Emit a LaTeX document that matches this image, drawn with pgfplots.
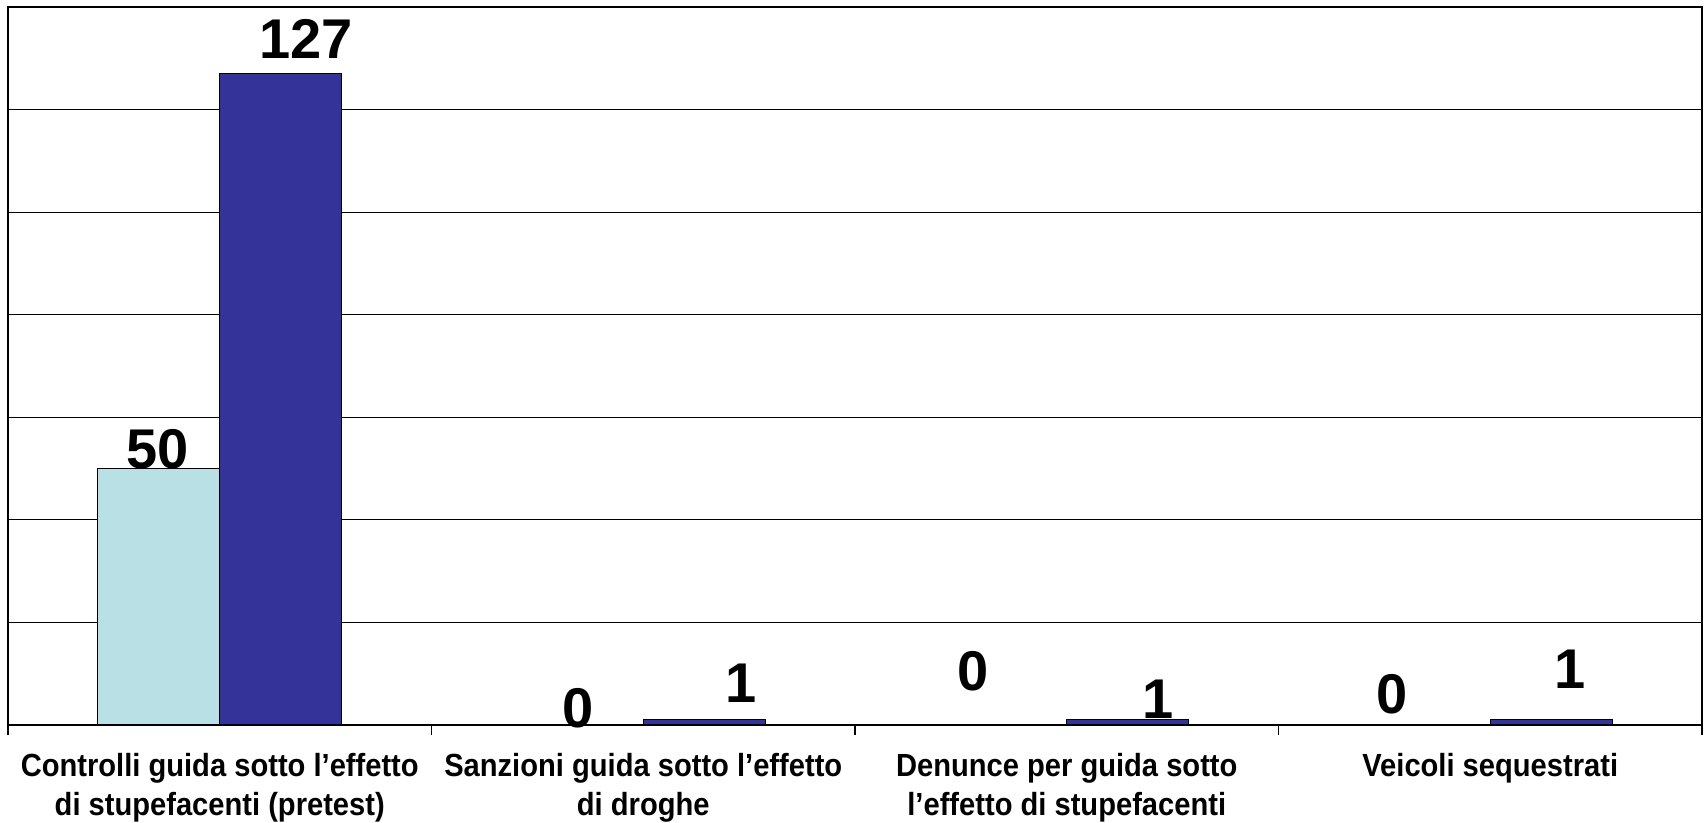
\documentclass[border=0pt]{standalone}
\usepackage{pgfplots}
\pgfplotsset{compat=1.18}
\usepackage{fontspec}
\setmainfont{Liberation Sans}
\newfontfamily\narrowfont{Liberation Sans}[FakeStretch=0.91]
\definecolor{lightbar}{RGB}{185,224,228}
\definecolor{darkbar}{RGB}{51,51,153}

\begin{document}
\begin{tikzpicture}
\begin{axis}[
    scale only axis,
    width=847pt, height=359pt,
    xmin=-0.5, xmax=3.5,
    ymin=0, ymax=140,
    ybar=0pt, bar width=0.288,
    axis line style={line width=1.4pt},
    ytick={0,20,...,140}, yticklabels={},
    ymajorgrids,
    major grid style={black, line width=0.6pt},
    xtick={0,1,2,3},
    xticklabels={
        Controlli guida sotto l’effetto\\di stupefacenti (pretest),
        Sanzioni guida sotto l’effetto\\di droghe,
        Denunce per guida sotto\\l’effetto di stupefacenti,
        Veicoli sequestrati},
    minor xtick={-0.5,0.5,1.5,2.5,3.5},
    major tick length=0pt,
    minor tick length=5pt,
    tick align=outside,
    xtick pos=bottom, ytick pos=left,
    minor tick style={black, line width=0.8pt},
    xticklabel style={font=\narrowfont\bfseries\fontsize{16}{19.5}\selectfont, align=center, yshift=-10.5pt},
    clip=false,
]
\addplot[fill=lightbar, draw=black, line width=0.6pt] coordinates {(0,50) (1,0) (2,0) (3,0)};
\addplot[fill=darkbar, draw=black, line width=0.6pt] coordinates {(0,127) (1,1) (2,1) (3,1)};

\begin{scope}[every node/.style={anchor=base, inner sep=0pt, font=\bfseries\fontsize{28}{28}\selectfont}]
\node at (axis cs:0.204,130) {127};
\node at (axis cs:-0.146,50.1) {50};
\node at (axis cs:0.846,-0.4) {0};
\node at (axis cs:1.231,4.3) {1};
\node at (axis cs:1.779,6.8) {0};
\node at (axis cs:2.215,1.2) {1};
\node at (axis cs:2.768,2.3) {0};
\node at (axis cs:3.188,7.2) {1};
\end{scope}

\coordinate (sw) at (rel axis cs:0,0);
\coordinate (ne) at (rel axis cs:1,1);
\end{axis}
\pgfresetboundingbox
\path[use as bounding box] ([xshift=-4pt,yshift=-49pt]sw) rectangle ([xshift=3pt,yshift=3.5pt]ne);
\end{tikzpicture}
\end{document}
